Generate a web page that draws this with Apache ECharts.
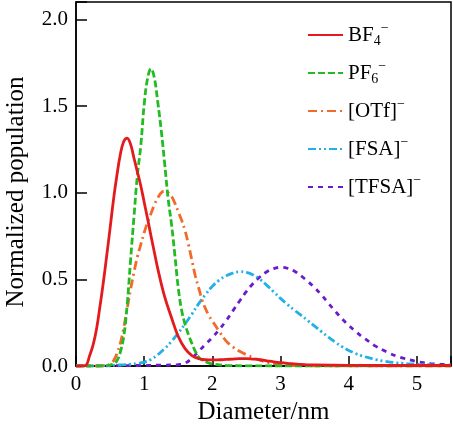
<!DOCTYPE html>
<html><head><meta charset="utf-8">
<script src="https://cdn.jsdelivr.net/npm/echarts@6/dist/echarts.min.js"></script>
<style>html,body{margin:0;padding:0;background:#fff}#c{width:453px;height:429px}</style>
</head><body><div id="c"></div>
<script>
const bf4X = [0,0.1,0.15,0.2,0.25,0.3,0.35,0.4,0.45,0.5,0.55,0.6,0.65,0.7,0.75,0.8,0.85,0.9,0.95,1.0,1.05,1.1,1.15,1.2,1.3,1.4,1.5,1.6,1.7,1.8,1.9,2.0,2.1,2.2,2.3,2.4,2.5,2.6,2.7,2.8,2.9,3.0,3.1,3.2,3.3,3.4,3.5,4.0,4.5,5.0,5.5];
const bf4Y = [0,0,0.005,0.06,0.12,0.21,0.34,0.48,0.635,0.795,0.96,1.10,1.22,1.295,1.315,1.28,1.20,1.12,1.04,0.945,0.85,0.75,0.655,0.56,0.40,0.28,0.17,0.10,0.06,0.042,0.036,0.035,0.036,0.038,0.040,0.042,0.043,0.040,0.036,0.030,0.024,0.019,0.015,0.012,0.009,0.007,0.006,0.004,0.003,0.003,0.003];
const pf6X = [0,0.4,0.5,0.55,0.6,0.65,0.7,0.75,0.8,0.85,0.9,0.95,1.0,1.05,1.1,1.15,1.2,1.25,1.3,1.35,1.4,1.45,1.5,1.55,1.6,1.65,1.7,1.75,1.8,1.85,1.9,1.95,2.0,2.2,2.5,3.0,5.5];
const pf6Y = [0,0,0.005,0.012,0.03,0.08,0.17,0.35,0.61,0.86,1.10,1.27,1.51,1.66,1.715,1.66,1.52,1.36,1.17,0.97,0.82,0.64,0.45,0.32,0.24,0.18,0.13,0.085,0.05,0.035,0.025,0.017,0.012,0.003,0.001,0,0];
const otfX = [0,0.4,0.45,0.5,0.55,0.6,0.65,0.7,0.75,0.8,0.85,0.9,0.95,1.0,1.05,1.1,1.15,1.2,1.25,1.3,1.35,1.4,1.45,1.5,1.55,1.6,1.65,1.7,1.75,1.8,1.85,1.9,1.95,2.0,2.1,2.2,2.3,2.4,2.5,2.6,2.7,2.8,2.9,3.0,3.1,3.2,3.5,5.5];
const otfY = [0,0,0.002,0.01,0.03,0.07,0.13,0.22,0.33,0.44,0.54,0.63,0.70,0.77,0.83,0.88,0.93,0.97,1.0,1.01,1.0,0.98,0.94,0.89,0.84,0.78,0.70,0.61,0.52,0.45,0.38,0.33,0.29,0.26,0.20,0.145,0.11,0.085,0.065,0.048,0.033,0.022,0.014,0.008,0.004,0.002,0,0];
const fsaX = [0,0.1,0.2,0.3,0.4,0.5,0.6,0.7,0.8,0.9,1.0,1.1,1.2,1.3,1.4,1.5,1.6,1.7,1.8,1.9,2.0,2.1,2.2,2.3,2.4,2.5,2.6,2.7,2.8,2.9,3.0,3.1,3.2,3.3,3.4,3.5,3.6,3.7,3.8,3.9,4.0,4.1,4.2,4.3,4.4,4.5,4.6,4.7,4.8,4.9,5.0,5.1,5.2,5.3,5.4,5.5];
const fsaY = [0,0,0,0,0.002,0.003,0.005,0.007,0.01,0.015,0.022,0.038,0.065,0.10,0.142,0.19,0.243,0.30,0.36,0.413,0.46,0.495,0.52,0.536,0.544,0.54,0.525,0.50,0.465,0.428,0.39,0.355,0.323,0.293,0.262,0.23,0.198,0.167,0.138,0.112,0.09,0.072,0.058,0.047,0.037,0.029,0.023,0.018,0.015,0.012,0.010,0.008,0.007,0.006,0.005,0.005];
const tfsaX = [0,0.1,0.2,0.3,0.4,0.5,0.6,0.7,0.8,0.9,1.0,1.1,1.2,1.3,1.4,1.5,1.6,1.7,1.8,1.9,2.0,2.1,2.2,2.3,2.4,2.5,2.6,2.7,2.8,2.9,3.0,3.1,3.2,3.3,3.4,3.5,3.6,3.7,3.8,3.9,4.0,4.1,4.2,4.3,4.4,4.5,4.6,4.7,4.8,4.9,5.0,5.1,5.2,5.3,5.4,5.5];
const tfsaY = [0,0,0,0,0.001,0.001,0.002,0.002,0.003,0.003,0.004,0.004,0.005,0.005,0.006,0.008,0.016,0.045,0.085,0.125,0.165,0.21,0.26,0.318,0.375,0.43,0.477,0.515,0.544,0.562,0.569,0.564,0.548,0.52,0.488,0.452,0.41,0.363,0.317,0.273,0.235,0.20,0.168,0.14,0.113,0.092,0.073,0.057,0.045,0.035,0.026,0.019,0.014,0.011,0.009,0.007];
const seriesNames = ['BF4','PF6','OTf','FSA','TFSA'];
const seriesLabels = ['BF{sub|4}{sup|−}','PF{sub|6}{sup|−}','[OTf]{sup|−}','[FSA]{sup|−}','[TFSA]{sup|−}'];
const yTicks = [0,0.5,1.0,1.5,2.0];
const xTicks = [0,1,2,3,4,5];

const colors = ['#e41b1e','#22bb22','#f26a2a','#22b0e6','#6a1ccc'];
const dashes = ['solid',[7,3],[9,4,2,4],[8,3,2,3,2,3],[5,5]];
const allX = [bf4X,pf6X,otfX,fsaX,tfsaX];
const allY = [bf4Y,pf6Y,otfY,fsaY,tfsaY];

const chart = echarts.init(document.getElementById('c'));
const font = 'Liberation Serif, Times New Roman, serif';
chart.setOption({
  animation:false,
  backgroundColor:'#fff',
  grid:{left:76,right:2,top:2,bottom:63,show:true,borderColor:'#000',borderWidth:1.5,
        containLabel:false,outerBoundsMode:'none'},
  legend:{
    orient:'vertical', left:302, top:15, itemWidth:35, itemHeight:10, itemGap:8,
    data:seriesNames,
    itemStyle:{color:'rgba(0,0,0,0)',borderWidth:0,borderColor:'rgba(0,0,0,0)'},
    formatter:function(n){return seriesLabels[seriesNames.indexOf(n)];},
    textStyle:{fontFamily:font,fontSize:21,color:'#000',lineHeight:30,
      rich:{sub:{fontFamily:font,fontSize:14,color:'#000',padding:[12,0,0,0],lineHeight:30},
            sup:{fontFamily:font,fontSize:14,color:'#000',padding:[0,0,14,0],lineHeight:30}}}
  },
  xAxis:{type:'value',min:0,max:5.5,interval:1,
    name:'Diameter/nm',nameLocation:'middle',nameGap:34,
    nameTextStyle:{fontFamily:font,fontSize:25,color:'#000'},
    axisLine:{lineStyle:{color:'#000',width:1.5}},
    axisTick:{inside:true,length:10,lineStyle:{color:'#000',width:1.5}},
    axisLabel:{fontFamily:font,fontSize:21,color:'#000',margin:8,
      formatter:function(v){return xTicks.indexOf(v)>=0?String(v):'';}},
    splitLine:{show:false}},
  yAxis:{type:'value',min:0,max:2.1,interval:0.5,
    name:'Normalized population',nameLocation:'middle',nameGap:47,
    nameTextStyle:{fontFamily:font,fontSize:25,color:'#000',padding:[0,16,0,0]},
    axisLine:{lineStyle:{color:'#000',width:1.5}},
    axisTick:{inside:true,length:11,lineStyle:{color:'#000',width:1.5}},
    axisLabel:{fontFamily:font,fontSize:21,color:'#000',margin:8,
      formatter:function(v){return yTicks.some(t=>Math.abs(t-v)<1e-9)?v.toFixed(1):'';}},
    splitLine:{show:false}},
  series: seriesNames.map((n,i)=>({
    name:n,type:'line',smooth:0.4,smoothMonotone:'none',showSymbol:false,symbol:'none',
    data:allX[i].map((x,j)=>[x,allY[i][j]]),
    lineStyle:{color:colors[i],width:2.8,type:dashes[i]},
    itemStyle:{color:colors[i]},
    z: 10-i
  }))
});
</script></body></html>
